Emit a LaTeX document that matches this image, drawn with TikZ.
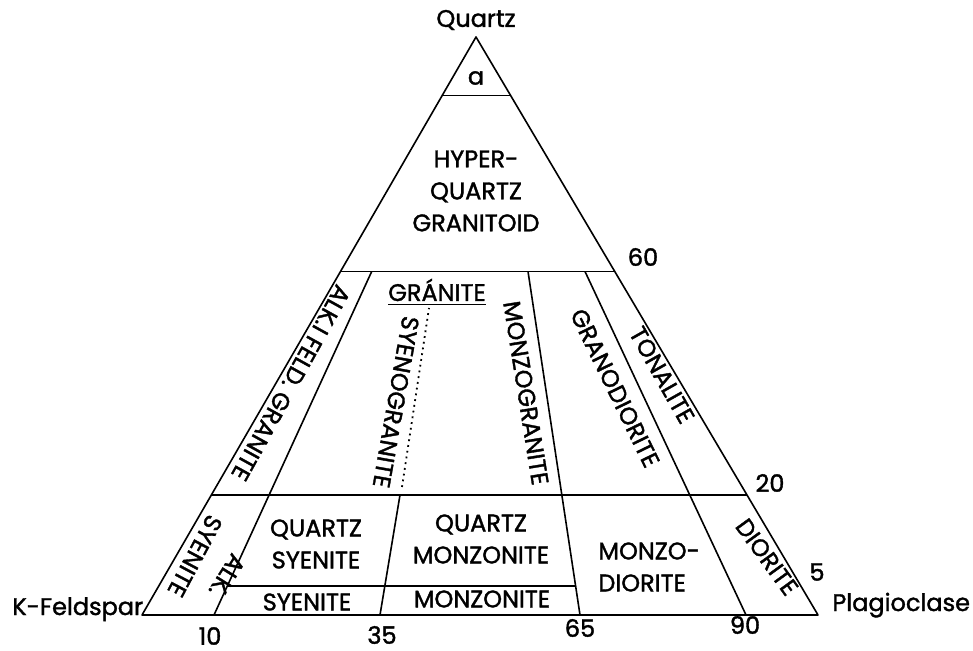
\documentclass[tikz,border=0pt]{standalone}
\usepackage{fontspec}
\newfontfamily\qapfont{Poppins}[FakeBold=1.5]
\usetikzlibrary{calc}
\tikzset{
  field line/.style={line width=.8pt,line join=round},
  split line/.style={line width=.9pt,dotted},
  field label/.style={font=\qapfont\fontsize{12}{16}\selectfont,align=center,inner sep=0pt},
  corner label/.style={font=\qapfont\fontsize{12}{14}\selectfont,inner sep=0pt},
  tick label/.style={font=\qapfont\fontsize{12}{14}\selectfont,inner sep=0pt}
}

\begin{document}
\begin{tikzpicture}[x=0.5pt,y=-0.5pt]
  \path[use as bounding box] (0,0) rectangle (973,651);
  \fill[white] (0,0) rectangle (973,651);

  % corners of the Q-A-P triangle
  \coordinate (Kf) at (142,615);
  \coordinate (Pl) at (818,615);
  \coordinate (Qz) at (476,37);
  \draw[field line] (Kf) -- (Pl) -- (Qz) -- cycle;

  % quartz levels 90, 60, 20 and 5
  \draw[field line] ($(Kf)!.899!(Qz)$) -- ($(Pl)!.899!(Qz)$);
  \draw[field line] ($(Kf)!.594!(Qz)$) -- ($(Pl)!.594!(Qz)$);
  \draw[field line] ($(Kf)!.208!(Qz)$) -- ($(Pl)!.208!(Qz)$);
  \draw[field line] (227.3,586) -- (575.6,586);

  % plagioclase ratio boundaries
  \draw[field line] (214,615) -- (371.7,271.5);
  \draw[field line] (380,615) -- (400,495);
  \draw[split line] (402,487) -- (429,308);
  \draw[field line] (580,615) -- (528,271.5);
  \draw[field line] (746,615) -- (585,271.5);

  % corners and ticks
  \node[corner label] (quartz) at (476,20) {Quartz};
  \node[corner label,anchor=base west] (kfeldspar) at (12,615) {K-Feldspar};
  \node[corner label,anchor=base west] (plagioclase) at (832,611) {Plagioclase};
  \node[tick label] (q60) at (643,257) {60};
  \node[tick label] (q20) at (770,483) {20};
  \node[tick label] (q5) at (817,572) {5};
  \node[tick label] (p10) at (210,636) {10};
  \node[tick label] (p35) at (382,635) {35};
  \node[tick label] (p65) at (580,628) {65};
  \node[tick label] (p90) at (745,625) {90};

  % field names
  \node[field label] (fa) at (476,78) {a};
  \node[field label] (hyper) at (476,191) {HYPER-\\QUARTZ\\GRANITOID};
  \node[field label,anchor=base] (granite) at (437,301) {\underline{GRÁNITE}};
  \node[field label,rotate=-119] (alkgranite) at (291,383) {ALK.I FELD. GRANITE};
  \node[field label,rotate=-100] (syenogranite) at (396,402) {SYENOGRANITE};
  \node[field label,rotate=-81] (monzogranite) at (526,393) {MONZOGRANITE};
  \node[field label,rotate=-64] (granodiorite) at (615,388) {GRANODIORITE};
  \node[field label,rotate=-60.5] (tonalite) at (662,375) {TONALITE};
  \node[field label,rotate=-118] (alksyenite) at (195,556) {SYENITE};
  \node[field label,rotate=-122] (alk) at (227,576) {ALK.};
  \node[field label] (qsyenite) at (316,544) {QUARTZ\\SYENITE};
  \node[field label] (syenite) at (307,602) {SYENITE};
  \node[field label] (qmonzonite) at (481,539) {QUARTZ\\MONZONITE};
  \node[field label] (monzonite) at (482,599) {MONZONITE};
  \node[field label,align=left,anchor=west] (monzodiorite) at (598,567) {MONZO-\\DIORITE};
  \node[field label,rotate=-54] (diorite) at (767,557) {DIORITE};
\end{tikzpicture}
\end{document}
